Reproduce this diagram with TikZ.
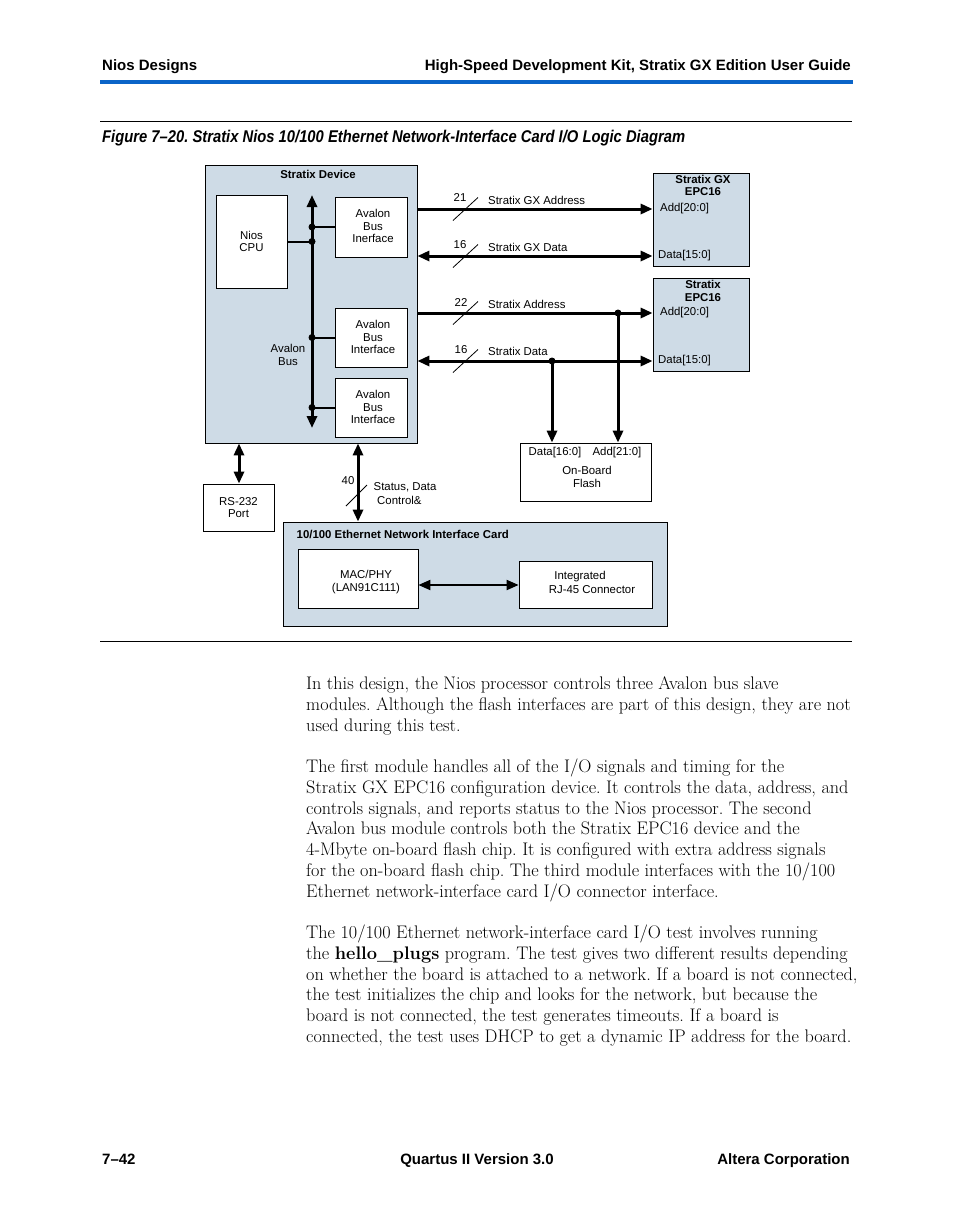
\documentclass[tikz,border=0pt]{standalone}
\usepackage{fontspec}
\usepackage{graphicx}
\newfontfamily\hv{Liberation Sans}
\usetikzlibrary{arrows.meta}
\definecolor{devfill}{RGB}{206,219,230}
\definecolor{hblue}{RGB}{10,100,200}
\frenchspacing
\tikzset{
  lbl/.style={font=\hv\fontsize{11.4}{12.6}\selectfont, inner sep=0pt, align=center},
  lblb/.style={font=\hv\bfseries\fontsize{11.4}{12.6}\selectfont, inner sep=0pt, align=center},
  blk/.style={draw, line width=0.8pt, fill=white, inner sep=0pt, lbl},
  area/.style={draw, line width=0.8pt, fill=devfill, inner sep=0pt},
  bus/.style={line width=3pt},
  conn/.style={line width=2pt},
  slash/.style={line width=0.8pt},
  dot/.style={circle, fill=black, inner sep=0pt, minimum size=7pt},
  hdr/.style={font=\hv\bfseries\fontsize{15}{18}\selectfont, inner sep=0pt},
  body/.style={font=\fontsize{18.2}{20.75}\selectfont, inner sep=0pt, anchor=base west},
  tip/.tip={Triangle[length=12pt,width=10pt]}
}
\begin{document}
\begin{tikzpicture}[x=1pt,y=-1pt]
\useasboundingbox (0,0) rectangle (954,1227);
\fill[white] (0,0) rectangle (954,1227);

% page header
\node[hdr, anchor=base west] (h1) at (102,70.5) {Nios Designs};
\node[hdr, anchor=base east] (h2) at (851,70.5) {High-Speed Development Kit, Stratix GX Edition User Guide};
\coordinate (bl1) at (100,82); \coordinate (bl2) at (853,82);
\draw[hblue, line width=4pt] (bl1) -- (bl2);
\coordinate (tl1) at (100,121.5); \coordinate (tl2) at (852,121.5);
\draw[line width=0.9pt] (tl1) -- (tl2);
\node[inner sep=0pt, anchor=base west] (cap) at (102,142.5)
  {\resizebox{583pt}{\height}{\hv\bfseries\itshape\fontsize{17}{17}\selectfont Figure 7–20. Stratix Nios 10/100 Ethernet Network-Interface Card I/O Logic Diagram}};

% Stratix device
\node[area, minimum width=212pt, minimum height=278pt] (dev) at (311,304) {};
\node[lblb] (devt) at (318,174) {Stratix Device};
\node[blk, minimum width=71pt, minimum height=93pt] (cpu) at (251.5,241.5) {Nios\\CPU};
\node[blk, minimum width=72pt, minimum height=60pt] (abi1) at (371,227) {};
\node[lbl] (abi1t) at (373,226) {Avalon\\Bus\\Inerface};
\node[blk, minimum width=72pt, minimum height=59pt] (abi2) at (371,337.5) {};
\node[lbl] (abi2t) at (373,337) {Avalon\\Bus\\Interface};
\node[blk, minimum width=72pt, minimum height=59pt] (abi3) at (371,407.5) {};
\node[lbl] (abi3t) at (373,407) {Avalon\\Bus\\Interface};
\node[lbl] (busl) at (288,355) {Avalon\\Bus};

% Avalon bus
\coordinate (bustop) at (312,195); \coordinate (busbot) at (312,428);
\draw[bus, tip-tip] (bustop) -- (busbot);
\node[dot] (b1) at (312,227) {};
\node[dot] (b0) at (312,241.5) {};
\node[dot] (b2) at (312,337.5) {};
\node[dot] (b3) at (312,407.5) {};
\draw[conn] (b1.center) -- (abi1.west |- b1);
\draw[conn] (cpu.east) -- (b0.center);
\draw[conn] (b2.center) -- (abi2.west |- b2);
\draw[conn] (b3.center) -- (abi3.west |- b3);

% EPC16 devices
\node[area, minimum width=96pt, minimum height=93pt] (gx) at (701,219.5) {};
\node[lblb] (gxt) at (703,185.5) {Stratix GX\\EPC16};
\node[lbl, anchor=west] (gxa) at (660,209) {Add[20:0]};
\node[lbl, anchor=west] (gxd) at (658,256) {Data[15:0]};
\node[area, minimum width=96pt, minimum height=93pt] (sx) at (701,324.5) {};
\node[lblb] (sxt) at (703,291) {Stratix\\EPC16};
\node[lbl, anchor=west] (sxa) at (660,313) {Add[20:0]};
\node[lbl, anchor=west] (sxd) at (658,361) {Data[15:0]};

% flash
\node[blk, minimum width=131pt, minimum height=58pt] (flash) at (585.5,472) {};
\node[lbl] (fld) at (555,452.5) {Data[16:0]};
\node[lbl] (fla) at (617,452.5) {Add[21:0]};
\node[lbl] (flt) at (587,477) {On-Board\\Flash};

% signal lines
\coordinate (y1) at (0,209); \coordinate (y2) at (0,256);
\coordinate (y3) at (0,313); \coordinate (y4) at (0,361);
\draw[bus, -tip] (dev.east |- y1) -- (gx.west |- y1);
\draw[bus, tip-tip] (dev.east |- y2) -- (gx.west |- y2);
\draw[bus, -tip] (dev.east |- y3) -- (sx.west |- y3);
\draw[bus, tip-tip] (dev.east |- y4) -- (sx.west |- y4);
\node[dot] (da) at (618,313) {};
\node[dot] (dd) at (552,361) {};
\draw[bus, -tip] (da.center) -- (flash.north -| da);
\draw[bus, -tip] (dd.center) -- (flash.north -| dd);

% bus-width slashes and labels
\coordinate (s1) at (465.5,209); \coordinate (s2) at (465.5,256);
\coordinate (s3) at (465.5,313); \coordinate (s4) at (465.5,361);
\foreach \s in {s1,s2,s3,s4} \draw[slash] (\s) ++(-12.5,11.5) -- ++(25,-23);
\node[lbl] (n1) at (460,198) {21};
\node[lbl] (n2) at (460,245) {16};
\node[lbl] (n3) at (461,302.5) {22};
\node[lbl] (n4) at (461,350) {16};
\node[lbl, anchor=west] (t1) at (488,200) {Stratix GX Address};
\node[lbl, anchor=west] (t2) at (488,247) {Stratix GX Data};
\node[lbl, anchor=west] (t3) at (488,304) {Stratix Address};
\node[lbl, anchor=west] (t4) at (488,351) {Stratix Data};

% RS-232
\node[blk, minimum width=71pt, minimum height=47pt] (rs) at (238.5,507.5) {RS-232\\Port};
\coordinate (rsx) at (239,0);
\draw[bus, tip-tip] (dev.south -| rsx) -- (rs.north -| rsx);

% Ethernet card
\node[area, minimum width=384pt, minimum height=104pt] (eth) at (475,574) {};
\node[lblb, anchor=west] (etht) at (296.5,534) {10/100 Ethernet Network Interface Card};
\node[blk, minimum width=120pt, minimum height=59pt] (mac) at (358,578.5) {};
\node[lbl] (mact) at (366,582) {MAC/PHY\\(LAN91C111)};
\node[blk, minimum width=133pt, minimum height=47pt] (rj) at (585.5,584.5) {};
\node[lbl] (rjt1) at (580,577) {Integrated};
\node[lbl] (rjt2) at (592,590) {RJ-45 Connector};
\coordinate (yr) at (0,585);
\draw[conn, tip-tip] (mac.east |- yr) -- (rj.west |- yr);

\coordinate (ex) at (358,0);
\draw[bus, tip-tip] (dev.south -| ex) -- (eth.north -| ex);
\coordinate (s5) at (356.5,495.5);
\draw[slash] (s5) ++(-10.5,10.5) -- ++(21,-21);
\node[lbl] (n5) at (348,480.5) {40};
\node[lbl, anchor=west] (t5) at (373.5,487) {Status, Data};
\node[lbl, anchor=west] (t6) at (377,500.5) {Control\&};

\coordinate (bl3) at (100,641.5); \coordinate (bl4) at (852,641.5);
\draw[line width=0.9pt] (bl3) -- (bl4);

% body text
\node[body] (p0) at (306,689.5) {In this design, the Nios processor controls three Avalon bus slave};
\node[body] (p1) at (306,710.25) {modules. Although the flash interfaces are part of this design, they are not};
\node[body] (p2) at (306,731) {used during this test.};
\node[body] (p4) at (306,772.5) {The first module handles all of the I/O signals and timing for the};
\node[body] (p5) at (306,793.25) {Stratix GX EPC16 configuration device. It controls the data, address, and};
\node[body] (p6) at (306,814) {controls signals, and reports status to the Nios processor. The second};
\node[body] (p7) at (306,834.75) {Avalon bus module controls both the Stratix EPC16 device and the};
\node[body] (p8) at (306,855.5) {4-Mbyte on-board flash chip. It is configured with extra address signals};
\node[body] (p9) at (306,876.25) {for the on-board flash chip. The third module interfaces with the 10/100};
\node[body] (p10) at (306,897) {Ethernet network-interface card I/O connector interface.};
\node[body] (p12) at (306,938.5) {The 10/100 Ethernet network-interface card I/O test involves running};
\node[body] (p13) at (306,959.25) {the \textbf{hello\_plugs} program. The test gives two different results depending};
\node[body] (p14) at (306,980) {on whether the board is attached to a network. If a board is not connected,};
\node[body] (p15) at (306,1000.75) {the test initializes the chip and looks for the network, but because the};
\node[body] (p16) at (306,1021.5) {board is not connected, the test generates timeouts. If a board is};
\node[body] (p17) at (306,1042.25) {connected, the test uses DHCP to get a dynamic IP address for the board.};

% footer
\node[hdr, anchor=base west] (f1) at (102,1164.5) {7–42};
\node[hdr, anchor=base] (f2) at (477,1164.5) {Quartus II Version 3.0};
\node[hdr, anchor=base east] (f3) at (850,1164.5) {Altera Corporation};
\end{tikzpicture}
\end{document}
